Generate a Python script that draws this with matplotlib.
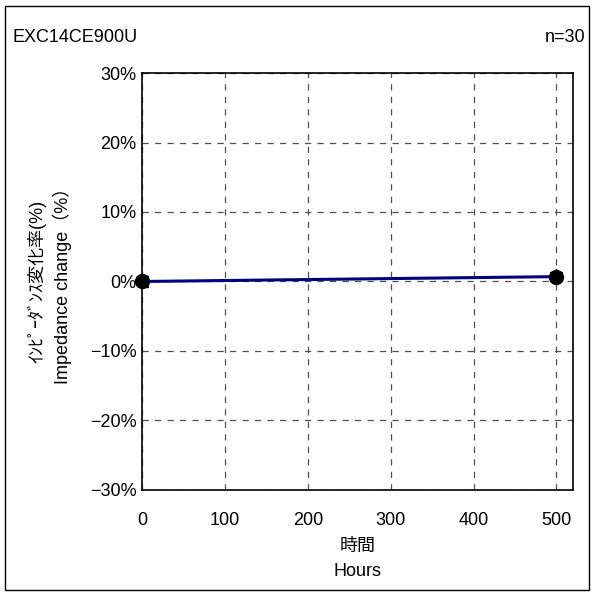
import matplotlib
matplotlib.use("Agg")
import matplotlib.pyplot as plt
from matplotlib.patches import Rectangle
from matplotlib.ticker import PercentFormatter

plt.rcParams['font.family'] = ['Liberation Sans', 'Noto Sans CJK JP', 'DejaVu Sans']

hours = [0, 500]
avg = [0.0, 0.7]
vmax = [0.1, 0.9]
vmin = [-0.1, 0.5]

xticks = [0, 100, 200, 300, 400, 500]
yticks = [-30, -20, -10, 0, 10, 20, 30]

fig = plt.figure(figsize=(5.95, 5.95), dpi=100)
ax = fig.add_axes([0.2387, 0.1765, 0.7243, 0.7008])

ax.plot(hours, vmax, linestyle="none", marker="^", color="black", markersize=8, zorder=4)
ax.plot(hours, vmin, linestyle="none", marker="v", color="black", markersize=8, zorder=4)
ax.plot(hours, avg, color="#000080", linewidth=2.2, marker="o", markersize=10,
        markerfacecolor="black", markeredgecolor="black", zorder=5, clip_on=False)

ax.set_xlim(0, 520)
ax.set_ylim(-30, 30)
ax.set_xticks(xticks)
ax.set_yticks(yticks)
ax.yaxis.set_major_formatter(PercentFormatter(decimals=0))
ax.grid(True, linestyle=(0, (5, 5)), color="#505050", linewidth=0.9)
ax.tick_params(length=0, labelsize=13)
ax.tick_params(axis="x", pad=16)
ax.tick_params(axis="y", pad=4)
for s in ax.spines.values():
    s.set_linewidth(1.2)

ax.set_xlabel("時間\nHours", fontsize=13, linespacing=1.65, labelpad=6)
ax.set_ylabel("ｲﾝﾋﾟｰﾀﾞﾝｽ変化率(%)\nImpedance change（%）", fontsize=13, linespacing=1.35)
ax.yaxis.set_label_coords((49.5 - 142) / 431, 0.5)
ax.yaxis.label.set_va("center")

fig.text(12 / 595, 1 - 37 / 595, "EXC14CE900U", fontsize=13, va="center", ha="left")
fig.text(585 / 595, 1 - 37 / 595, "n=30", fontsize=13, va="center", ha="right")

fig.patches.append(Rectangle((5 / 595, 5 / 595), 584 / 595, 584 / 595, transform=fig.transFigure,
                             fill=False, edgecolor="black", linewidth=1))

fig.savefig("out.png", dpi=100)
